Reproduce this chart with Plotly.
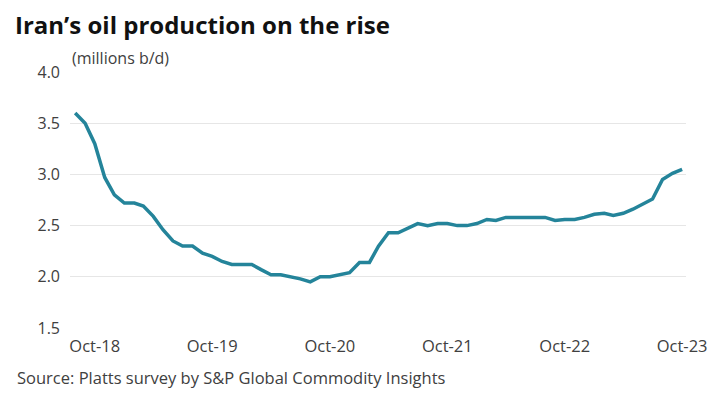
import pandas as pd
import plotly.graph_objects as go

months = list(pd.date_range("2018-08-01", "2023-10-01", freq="MS"))
production = [
    3.60, 3.50, 3.30, 2.97, 2.80, 2.72, 2.72, 2.69, 2.59, 2.46,
    2.35, 2.30, 2.30, 2.23, 2.20, 2.15, 2.12, 2.12, 2.12, 2.07,
    2.02, 2.02, 2.00, 1.98, 1.95, 2.00, 2.00, 2.02, 2.04, 2.14,
    2.14, 2.30, 2.43, 2.43, 2.48, 2.52, 2.50, 2.52, 2.52, 2.50,
    2.50, 2.52, 2.56, 2.55, 2.58, 2.58, 2.58, 2.58, 2.58, 2.55,
    2.56, 2.56, 2.58, 2.61, 2.62, 2.60, 2.62, 2.66, 2.71, 2.76,
    2.95, 3.01, 3.05,
]
tick_dates = ["2018-10-01", "2019-10-01", "2020-10-01", "2021-10-01", "2022-10-01", "2023-10-01"]
tick_labels = ["Oct-18", "Oct-19", "Oct-20", "Oct-21", "Oct-22", "Oct-23"]
y_ticks = [1.5, 2.0, 2.5, 3.0, 3.5, 4.0]

FONT = "Open Sans"
TXT = "#404040"

fig = go.Figure()
fig.add_trace(go.Scatter(
    x=months, y=production, mode="lines",
    line=dict(color="#24849a", width=3.5),
    hoverinfo="skip", showlegend=False,
))

# page body has an 8px default margin, so the figure is drawn 8px in
OFF = 8
W, H = 722 - OFF, 399 - OFF
L, R, T, B = 70 - OFF, 36, 72 - OFF, 71

fig.update_layout(
    width=W, height=H,
    margin=dict(l=L, r=R, t=T, b=B),
    paper_bgcolor="white", plot_bgcolor="white",
    font=dict(family=FONT, color=TXT, size=15),
    title=dict(
        text="<b>Iran’s oil production on the rise</b>",
        xref="container", yref="container",
        x=(15 - OFF) / W, xanchor="left",
        y=1 - 9 / H, yanchor="top",
        font=dict(family=FONT, size=24, color="#111111"),
    ),
    xaxis=dict(
        type="date",
        range=["2018-07-16", "2023-10-13"],
        tickvals=tick_dates, ticktext=tick_labels,
        showgrid=False, zeroline=False, showline=False,
        ticks="", ticklabelstandoff=6,
        tickfont=dict(family=FONT, size=16.5, color=TXT),
    ),
    yaxis=dict(
        range=[1.5, 4.0],
        tickvals=y_ticks, ticktext=[f"{v:.1f}" for v in y_ticks],
        showgrid=True, gridcolor="#e6e6e6", gridwidth=1,
        zeroline=False, showline=False, ticks="",
        ticklabelstandoff=9,
        tickfont=dict(family=FONT, size=16, color=TXT),
    ),
    annotations=[
        dict(
            text="(millions b/d)", xref="paper", yref="paper",
            x=0, y=1, xanchor="left", yanchor="bottom", yshift=1,
            showarrow=False, font=dict(family=FONT, size=16, color=TXT),
        ),
        dict(
            text="Source: Platts survey by S&P Global Commodity Insights",
            xref="paper", yref="paper",
            x=(15 - L - OFF) / (W - L - R), y=0, xanchor="left", yanchor="top",
            yshift=-36, showarrow=False,
            font=dict(family=FONT, size=16.5, color=TXT),
        ),
    ],
)

fig.write_html("out.html")
